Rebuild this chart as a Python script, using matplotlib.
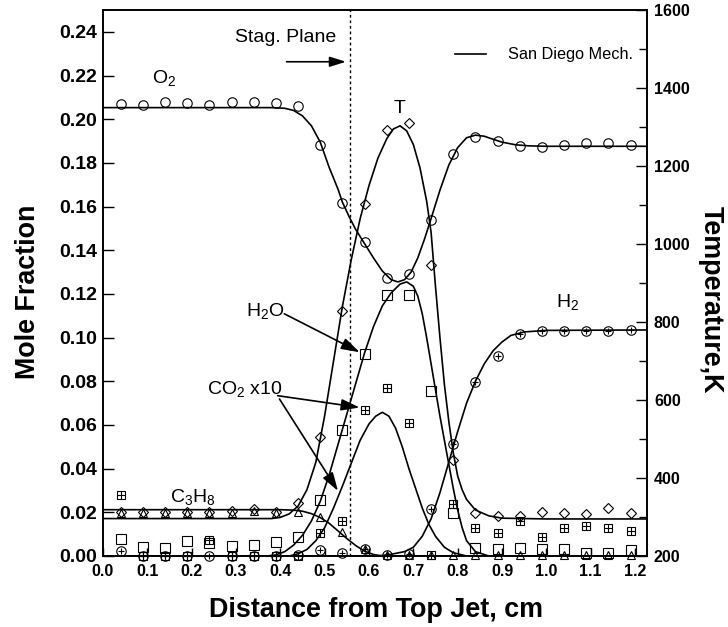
import numpy as np
import matplotlib
matplotlib.use("Agg")
import matplotlib.pyplot as plt

plt.rcParams["font.family"] = ["Liberation Sans", "DejaVu Sans"]
plt.rcParams["mathtext.default"] = "regular"

# measured points, x in cm from top jet
x_exp = [0.04, 0.09, 0.14, 0.19, 0.24, 0.29, 0.34, 0.39, 0.44, 0.49, 0.54, 0.59,
         0.64, 0.69, 0.74, 0.79, 0.84, 0.89, 0.94, 0.99, 1.04, 1.09, 1.14, 1.19]
o2_exp = [0.2069, 0.2066, 0.2080, 0.2072, 0.2067, 0.2080, 0.2080, 0.2075, 0.2060, 0.1880, 0.1615, 0.1436,
          0.1275, 0.1290, 0.1540, 0.1840, 0.1920, 0.1900, 0.1878, 0.1873, 0.1880, 0.1889, 0.1890, 0.1880]
t_exp = [312, 314, 312, 312, 314, 316, 320, 314, 337, 504, 829, 1103,
         1292, 1311, 945, 446, 311, 303, 303, 313, 309, 307, 322, 310]
c3h8_exp = [0.0195, 0.0195, 0.0195, 0.0195, 0.0195, 0.0197, 0.0205, 0.0199, 0.0203, 0.0180, 0.0112, 0.0030,
            0.0003, 0.0003, 0.0005, 0.0005, 0.0003, 0.0003, 0.0003, 0.0003, 0.0003, 0.0003, 0.0003, 0.0003]
h2o_exp = [0.0080, 0.0041, 0.0035, 0.0069, 0.0060, 0.0046, 0.0050, 0.0066, 0.0085, 0.0258, 0.0577, 0.0925,
           0.1197, 0.1193, 0.0754, 0.0199, 0.0035, 0.0031, 0.0038, 0.0031, 0.0031, 0.0015, 0.0015, 0.0026]
co2_exp = [0.0278, 0.0, 0.0, 0.0, 0.0073, 0.0, 0.0, 0.0, 0.0, 0.0107, 0.0158, 0.0668,
           0.0768, 0.0607, 0.0005, 0.0240, 0.0127, 0.0107, 0.0158, 0.0087, 0.0127, 0.0138, 0.0127, 0.0115]
h2_exp = [0.0023, 0.0, 0.0, 0.0, 0.0, 0.0, 0.0, 0.0, 0.0005, 0.0028, 0.0015, 0.0030,
          0.0005, 0.0008, 0.0214, 0.0512, 0.0795, 0.0914, 0.1017, 0.1028, 0.1032, 0.1030, 0.1032, 0.1033]

# San Diego mechanism
o2_x = [0.0, 0.38, 0.41, 0.43, 0.45, 0.47, 0.49, 0.51, 0.53, 0.54, 0.556, 0.57, 0.59, 0.61, 0.63, 0.65,
        0.665, 0.68, 0.695, 0.71, 0.725, 0.74, 0.76, 0.78, 0.80, 0.82, 0.84, 0.86, 0.88, 0.90, 0.93,
        0.96, 1.0, 1.227]
o2_y = [0.2053, 0.2053, 0.2050, 0.2040, 0.2015, 0.1970, 0.1895, 0.1780, 0.1680, 0.1620, 0.1550, 0.1495,
        0.1430, 0.1365, 0.1305, 0.1265, 0.1255, 0.1265, 0.1300, 0.1365, 0.1450, 0.1545, 0.1675, 0.1790,
        0.1870, 0.1915, 0.1927, 0.1922, 0.1908, 0.1895, 0.1883, 0.1878, 0.1876, 0.1876]

t_x = [0.0, 0.38, 0.40, 0.42, 0.44, 0.46, 0.48, 0.50, 0.52, 0.54, 0.56, 0.58, 0.60, 0.62, 0.64, 0.655,
       0.67, 0.685, 0.70, 0.715, 0.73, 0.74, 0.75, 0.76, 0.77, 0.78, 0.79, 0.80, 0.81, 0.82, 0.84,
       0.87, 0.90, 1.0, 1.227]
t_y = [296, 296, 299, 308, 328, 370, 440, 560, 700, 840, 960, 1065, 1150, 1220, 1270, 1295,
       1303, 1290, 1255, 1195, 1110, 1030, 890, 760, 640, 545, 465, 405, 370, 345, 318,
       303, 297, 295, 295]

h2o_x = [0.0, 0.37, 0.39, 0.41, 0.43, 0.45, 0.47, 0.49, 0.51, 0.53, 0.55, 0.57, 0.59, 0.61, 0.63, 0.65,
         0.67, 0.685, 0.70, 0.71, 0.72, 0.73, 0.74, 0.75, 0.76, 0.77, 0.78, 0.79, 0.80, 0.81, 0.82,
         0.84, 0.87, 1.227]
h2o_y = [0.0, 0.0, 0.0005, 0.002, 0.005, 0.0095, 0.016, 0.025, 0.037, 0.051, 0.065, 0.079, 0.093, 0.105,
         0.1145, 0.1205, 0.1245, 0.1255, 0.1235, 0.119, 0.111, 0.100, 0.088, 0.076, 0.064, 0.053, 0.042,
         0.031, 0.021, 0.013, 0.007, 0.002, 0.0, 0.0]

co2_x = [0.0, 0.42, 0.44, 0.46, 0.48, 0.50, 0.52, 0.54, 0.56, 0.58, 0.60, 0.615, 0.63, 0.645, 0.66,
         0.675, 0.69, 0.705, 0.72, 0.735, 0.75, 0.77, 0.79, 0.82, 1.227]
co2_y = [0.0, 0.0, 0.001, 0.003, 0.007, 0.013, 0.022, 0.032, 0.0425, 0.053, 0.0605, 0.064, 0.0658, 0.064,
         0.0585, 0.050, 0.040, 0.031, 0.022, 0.0145, 0.009, 0.004, 0.0015, 0.0, 0.0]

h2_x = [0.0, 0.62, 0.65, 0.68, 0.70, 0.72, 0.74, 0.76, 0.78, 0.80, 0.82, 0.84, 0.86, 0.88, 0.90, 0.92,
        0.95, 1.0, 1.227]
h2_y = [0.0, 0.0, 0.0008, 0.002, 0.004, 0.009, 0.017, 0.029, 0.043, 0.057, 0.070, 0.080, 0.088, 0.094,
        0.098, 0.1010, 0.1026, 0.1033, 0.1035]

c3h8_x = [0.0, 0.40, 0.43, 0.45, 0.47, 0.49, 0.51, 0.53, 0.55, 0.57, 0.59, 0.61, 0.63, 1.227]
c3h8_y = [0.0212, 0.0212, 0.0210, 0.0205, 0.0194, 0.0176, 0.0150, 0.0115, 0.0080, 0.0048, 0.0022,
          0.0007, 0.0, 0.0]

stag_x = 0.556

fig = plt.figure(figsize=(7.28, 6.27), dpi=100)
ax = fig.add_axes([103 / 728, 1 - 556 / 627, 544 / 728, 546 / 627])
ax2 = ax.twinx()

lw = 1.2
mew = 0.8
ax.plot(o2_x, o2_y, color="black", lw=lw, label="San Diego Mech.")
ax.plot(h2o_x, h2o_y, color="black", lw=lw)
ax.plot(co2_x, co2_y, color="black", lw=lw)
ax.plot(h2_x, h2_y, color="black", lw=lw)
ax.plot(c3h8_x, c3h8_y, color="black", lw=lw)
ax2.plot(t_x, t_y, color="black", lw=lw)


def marks(a, x, y, marker, ms, plus=None):
    a.plot(x, y, ls="none", marker=marker, ms=ms, mfc="none", mec="black", mew=mew, clip_on=False)
    if plus:
        a.plot(x, y, ls="none", marker="+", ms=plus, mec="black", mew=mew, clip_on=False)


marks(ax, x_exp, o2_exp, "o", 6.8)
marks(ax, x_exp, c3h8_exp, "^", 6.3)
marks(ax, x_exp, h2o_exp, "s", 6.5)
marks(ax, x_exp, co2_exp, "s", 6.0, plus=6.0)
marks(ax, x_exp, h2_exp, "o", 6.8, plus=5.0)
marks(ax2, x_exp, t_exp, "D", 4.6)

ax.axvline(stag_x, color="black", lw=1.0, ls=(0, (2, 2)))

ax.set_xlim(0, 1.227)
ax.set_ylim(0, 0.25)
ax2.set_ylim(200, 1600)

xt = np.round(np.arange(0, 1.21, 0.1), 1)
ax.set_xticks(xt)
ax.set_xticklabels(["%.1f" % v for v in xt], fontweight="bold", fontsize=11.5)
yt = np.round(np.arange(0, 0.241, 0.02), 2)
ax.set_yticks(yt)
ax.set_yticklabels(["%.2f" % v for v in yt], fontweight="bold", fontsize=14)
tt = list(range(200, 1601, 200))
ax2.set_yticks(tt)
ax2.set_yticks(range(300, 1600, 200), minor=True)
ax2.set_yticklabels([str(v) for v in tt], fontweight="bold", fontsize=11.5)

ax.tick_params(axis="x", direction="in", length=6, width=1, pad=6, top=False)
ax.tick_params(axis="y", direction="in", length=8, width=1, pad=4, right=False)
ax2.tick_params(axis="y", which="major", direction="in", length=8, width=1, pad=5)
ax2.tick_params(axis="y", which="minor", direction="in", length=6, width=1)
for a in (ax, ax2):
    for s in a.spines.values():
        s.set_linewidth(1.2)

fs = 14
ax.text(0.527, 0.2376, "Stag. Plane", fontsize=fs, ha="right", va="center")
ax.annotate("", xy=(0.548, 0.2263), xytext=(0.414, 0.2263),
            arrowprops=dict(arrowstyle="-|>,head_length=0.7,head_width=0.22", color="black", lw=1.2,
                            shrinkA=0, shrinkB=0, mutation_scale=14))
ax.text(0.111, 0.2165, "O$_2$", fontsize=fs, ha="left", va="baseline")
ax.text(0.669, 0.2028, "T", fontsize=fs, ha="center", va="baseline")
ax.text(1.0215, 0.1142, "H$_2$", fontsize=fs, ha="left", va="baseline")
ax.text(0.1514, 0.0248, "C$_3$H$_8$", fontsize=fs, ha="left", va="baseline")
ax.text(0.3224, 0.1101, "H$_2$O", fontsize=fs, ha="left", va="baseline")
ax.text(0.2357, 0.0742, "CO$_2$ x10", fontsize=fs, ha="left", va="baseline")

arrow = dict(arrowstyle="-|>,head_length=0.8,head_width=0.25", color="black", lw=1.2,
             shrinkA=0, shrinkB=0, mutation_scale=14)
ax.annotate("", xy=(0.579, 0.0933), xytext=(0.409, 0.1109), arrowprops=arrow)
ax.annotate("", xy=(0.579, 0.0680), xytext=(0.394, 0.0734), arrowprops=arrow)
ax.annotate("", xy=(0.530, 0.0298), xytext=(0.398, 0.0719), arrowprops=arrow)

ax.legend(loc="center right", bbox_to_anchor=(0.974, 0.918), frameon=False, fontsize=11.7,
          handlelength=1.9, handletextpad=1.35, borderpad=0, borderaxespad=0)

fig.text(28 / 728, 1 - 292 / 627, "Mole Fraction", rotation=90, fontsize=19.4, fontweight="bold",
         ha="center", va="center")
fig.text(711 / 728, 1 - 300 / 627, "Temperature,K", rotation=270, fontsize=19.4, fontweight="bold",
         ha="center", va="center")
fig.text(375.5 / 728, 1 - 617 / 627, "Distance from Top Jet, cm", fontsize=19.4, fontweight="bold",
         ha="center", va="baseline")

fig.savefig("out.png", dpi=100)
